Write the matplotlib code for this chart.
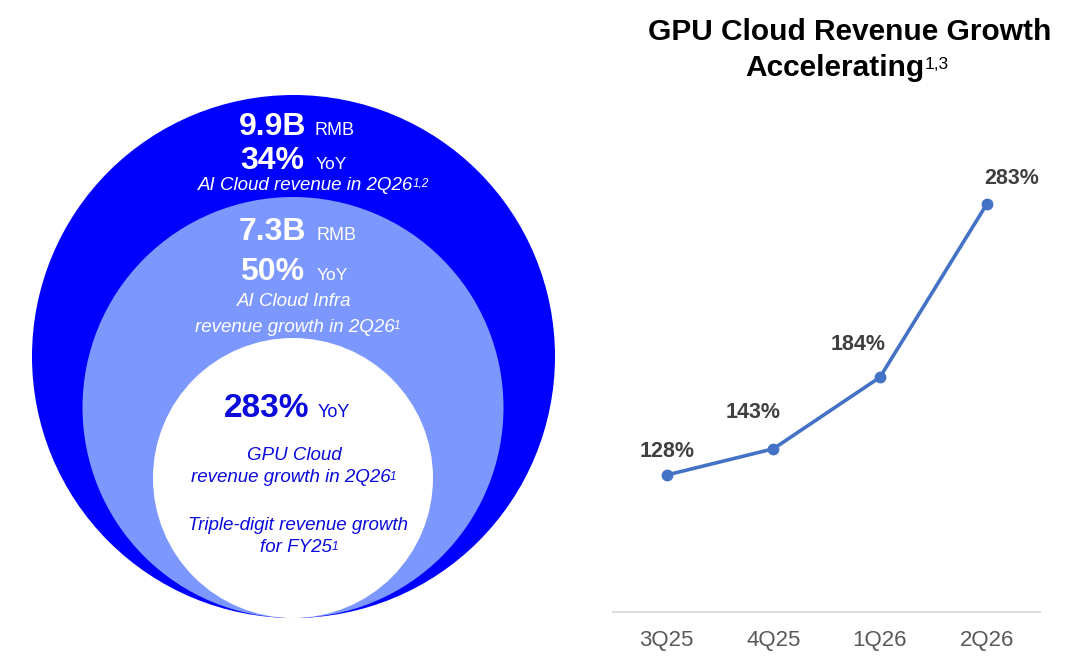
import matplotlib.pyplot as plt
from matplotlib.patches import Circle

plt.rcParams['font.family'] = ['Liberation Sans', 'DejaVu Sans']

# DATA
quarters = ['3Q25', '4Q25', '1Q26', '2Q26']
gpu_growth = [128, 143, 184, 283]
labels = ['128%', '143%', '184%', '283%']

ai_cloud_rev = '9.9B'
ai_cloud_yoy = '34%'
infra_rev = '7.3B'
infra_yoy = '50%'
gpu_yoy = '283%'

# label offsets (points) for the line chart
label_offsets = [(0, 16.6), (-14.4, 25.9), (-15.8, 23.8), (18, 18.7)]

BLUE = '#0000FF'
LIGHT = '#7C98FE'
INNER_TXT = '#0A0ADC'
LINE = '#4472C4'

fig = plt.figure(figsize=(10.8, 6.64), dpi=100)

#====================================================#
# LEFT: nested circles, pixel coordinates
ax0 = fig.add_axes([0, 0, 1, 1])
ax0.set_xlim(0, 1080)
ax0.set_ylim(664, 0)
ax0.axis('off')

ax0.add_patch(Circle((293.5, 356.5), 261.5, color=BLUE, lw=0))
ax0.add_patch(Circle((293, 407.5), 210.5, color=LIGHT, lw=0))
ax0.add_patch(Circle((293, 478), 140, color='white', lw=0))


def big_small(x, y, big, small, color, bsize=23, ssize=13, gap=9):
    ax0.text(x, y, big, ha='right', va='baseline', color=color,
             fontsize=bsize, fontweight='bold')
    ax0.text(x + gap, y, small, ha='left', va='baseline', color=color,
             fontsize=ssize)


def italic(x, y, s, color, sup=None, size=13.5):
    t = ax0.text(x, y, s, ha='center', va='center', color=color,
                 fontsize=size, style='italic')
    if sup is not None:
        ax0.annotate(sup, xy=(1, 0.92), xycoords=t, xytext=(-0.5, 0),
                     textcoords='offset points', ha='left', va='top',
                     color=color, fontsize=8.5, style='italic')
    return t


# outer circle
big_small(306, 135, ai_cloud_rev, 'RMB', 'white')
big_small(304, 169, ai_cloud_yoy, 'YoY', 'white', ssize=12.5, gap=12)
italic(306, 185, 'AI Cloud revenue in 2Q26', 'white', sup='1,2')

# middle circle
big_small(306, 240, infra_rev, 'RMB', 'white', gap=11)
big_small(304, 280, infra_yoy, 'YoY', 'white', ssize=12.5, gap=13)
italic(294.5, 302, 'AI Cloud Infra', 'white')
italic(295, 327, 'revenue growth in 2Q26', 'white', sup='1')

# inner circle
big_small(309, 417, gpu_yoy, 'YoY', INNER_TXT, bsize=24, ssize=13, gap=9)
italic(294, 455, 'GPU Cloud', INNER_TXT)
italic(291, 478, 'revenue growth in 2Q26', INNER_TXT, sup='1')
italic(298.5, 526, 'Triple-digit revenue growth', INNER_TXT)
italic(296, 548, 'for FY25', INNER_TXT, sup='1')

#====================================================#
# RIGHT: GPU cloud growth line chart
ax = fig.add_axes([613.3 / 1080, 1 - 612.3 / 664, 426.7 / 1080, 462.3 / 664])
ax.patch.set_alpha(0)
x = range(len(quarters))
ax.plot(x, gpu_growth, color=LINE, lw=2.6, marker='o', markersize=7.5,
        solid_capstyle='round')
for xi, v, lab, off in zip(x, gpu_growth, labels, label_offsets):
    ax.annotate(lab, xy=(xi, v), xytext=off, textcoords='offset points',
                ha='center', va='center', fontsize=15.5, fontweight='bold',
                color='#404040')
ax.set_xlim(-0.5, 3.5)
ax.set_ylim(49.4, 314.1)
ax.set_xticks(list(x))
ax.set_xticklabels(quarters, fontsize=16, color='#595959')
ax.set_yticks([])
ax.tick_params(axis='x', length=0, pad=13)
for s in ['top', 'left', 'right']:
    ax.spines[s].set_visible(False)
ax.spines['bottom'].set_color('#D9D9D9')
ax.spines['bottom'].set_linewidth(1.3)

# title
fig.text(850 / 1080, 1 - 32 / 664, 'GPU Cloud Revenue Growth',
         ha='center', va='center', fontsize=21.5, fontweight='bold')
t2 = fig.text(835 / 1080, 1 - 68 / 664, 'Accelerating',
              ha='center', va='center', fontsize=21.5, fontweight='bold')
ax0.annotate('1,3', xy=(1.0, 0.9), xycoords=t2, ha='left', va='top',
             fontsize=12.5)

plt.savefig('out.png', dpi=100)
